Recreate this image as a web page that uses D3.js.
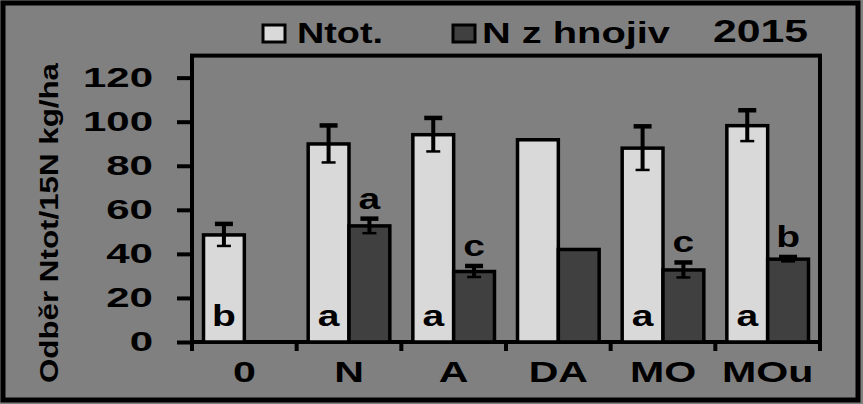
<!DOCTYPE html>
<html>
<head>
<meta charset="utf-8">
<script src="https://cdn.jsdelivr.net/npm/d3@7"></script>
<style>
  body { margin: 0; background: #808080; }
  svg { display: block; }
  text { font-family: "Liberation Sans", Arial, sans-serif; font-weight: bold; fill: #000; }
</style>
</head>
<body>
<svg id="chart" width="863" height="404"></svg>
<script>

// chart data
const categories = ["0", "N", "A", "DA", "MO", "MOu"];
const series_names = ["Ntot.", "N z hnojiv"];
const ntot = [48.6, 89.9, 94.1, 91.8, 88.0, 98.2];
const ntot_err = [5.0, 8.4, 7.6, null, 9.9, 7.0];
const nfert = [0, 52.7, 32.0, 42.0, 32.7, 37.6];
const nfert_err = [null, 3.3, 2.5, null, 3.4, 1.0];
const ntot_letters = ["b", "a", "a", "", "a", "a"];
const nfert_letters = ["", "a", "c", "", "c", "b"];
const y_ticks = [0, 20, 40, 60, 80, 100, 120];
const y_title = "Odběr Ntot/15N kg/ha";
const year_label = "2015";

const width = 863,
      height = 404,
      colours = {"ntot": "#d9d9d9", "nfert": "#404040"},
      plot = {left: 192, right: 820, top: 56, bottom: 342};

const svg = d3.select("#chart");

//stretch text sideways, the reference text is wide
function stretch(sel, k) {
    sel.each(function() {
        const len = this.getComputedTextLength();
        d3.select(this).attr("textLength", len * k).attr("lengthAdjust", "spacingAndGlyphs");
    });
}

//outer frame
svg.append("rect")
    .attr("x", 3).attr("y", 3)
    .attr("width", width - 8).attr("height", height - 7)
    .attr("fill", "#808080")
    .attr("stroke", "#000")
    .attr("stroke-width", 5);

//scales
const y = d3.scaleLinear().domain([0, 130]).range([plot.bottom, plot.bottom - 130 * 2.203]);

const x0 = d3.scaleBand()
    .domain(categories)
    .range([plot.left, plot.right])
    .paddingInner(0.22)
    .paddingOuter(0.11);

const x1 = d3.scaleBand()
    .domain(["ntot", "nfert"])
    .range([0, x0.bandwidth()]);

const rows = categories.map(function(c, i) {
    return {
        cat: c,
        bars: [
            {key: "ntot", value: ntot[i], err: ntot_err[i], letter: ntot_letters[i]},
            {key: "nfert", value: nfert[i], err: nfert_err[i], letter: nfert_letters[i]}
        ]
    };
});

//plot frame
svg.append("rect")
    .attr("x", plot.left).attr("y", y(130))
    .attr("width", plot.right - plot.left)
    .attr("height", plot.bottom - y(130))
    .attr("fill", "none")
    .attr("stroke", "#000")
    .attr("stroke-width", 4);

//y axis
const y_axis = svg.append("g")
    .attr("transform", "translate(" + plot.left + ",0)")
    .call(d3.axisLeft(y).tickValues(y_ticks).tickSize(15).tickPadding(24));

y_axis.select(".domain").remove();
y_axis.selectAll(".tick line").attr("stroke", "#000").attr("stroke-width", 4);
y_axis.selectAll(".tick text")
    .attr("font-size", 28)
    .attr("font-family", "Liberation Sans, Arial, sans-serif")
    .attr("font-weight", "bold")
    .attr("fill", "#000")
    .call(stretch, 1.5);

//bars
const group = svg.selectAll(".cat_group")
    .data(rows)
    .join("g")
    .attr("class", "cat_group")
    .attr("transform", d => "translate(" + x0(d.cat) + ",0)");

const bar = group.selectAll(".bar_group")
    .data(d => d.bars.filter(b => b.value > 0))
    .join("g")
    .attr("class", "bar_group");

bar.append("rect")
    .attr("x", d => x1(d.key))
    .attr("y", d => y(d.value))
    .attr("width", x1.bandwidth())
    .attr("height", d => y(0) - y(d.value))
    .attr("fill", d => colours[d.key])
    .attr("stroke", "#000")
    .attr("stroke-width", 3.5);

//error bars
const err = bar.filter(d => d.err !== null)
    .append("g")
    .attr("transform", d => "translate(" + (x1(d.key) + x1.bandwidth() / 2) + ",0)");

err.append("line")
    .attr("y1", d => y(d.value + d.err))
    .attr("y2", d => y(d.value - d.err))
    .attr("stroke", "#000").attr("stroke-width", 4);

err.append("line")
    .attr("x1", -9).attr("x2", 9)
    .attr("y1", d => y(d.value + d.err))
    .attr("y2", d => y(d.value + d.err))
    .attr("stroke", "#000").attr("stroke-width", 4.5);

err.append("line")
    .attr("x1", -7).attr("x2", 7)
    .attr("y1", d => y(d.value - d.err))
    .attr("y2", d => y(d.value - d.err))
    .attr("stroke", "#000").attr("stroke-width", 2.5);

//significance letters
bar.filter(d => d.letter !== "")
    .append("text")
    .attr("x", d => x1(d.key) + x1.bandwidth() / 2)
    .attr("y", function(d) {
        if (d.key === "ntot") return 326;
        return y(d.value + (d.err || 0)) - 10;
    })
    .attr("text-anchor", "middle")
    .attr("font-size", 30)
    .text(d => d.letter)
    .call(stretch, 1.3);

//x axis ticks at the category edges
const edges = d3.range(categories.length + 1).map(i => plot.left + i * x0.step());
svg.selectAll(".x_tick")
    .data(edges)
    .join("line")
    .attr("class", "x_tick")
    .attr("x1", d => d).attr("x2", d => d)
    .attr("y1", plot.bottom).attr("y2", plot.bottom + 9)
    .attr("stroke", "#000").attr("stroke-width", 4);

svg.selectAll(".x_label")
    .data(categories)
    .join("text")
    .attr("class", "x_label")
    .attr("x", d => x0(d) + x0.bandwidth() / 2)
    .attr("y", 382)
    .attr("text-anchor", "middle")
    .attr("font-size", 30)
    .text(d => d)
    .call(stretch, 1.37);

//y title
svg.append("text")
    .attr("transform", "translate(58,223) rotate(-90)")
    .attr("text-anchor", "middle")
    .attr("font-size", 25)
    .attr("textLength", 320)
    .attr("lengthAdjust", "spacingAndGlyphs")
    .text(y_title);

//legend
const legend_x = [263, 453];
const legend_text_len = [86, 188];
const legend = svg.selectAll(".legend")
    .data(series_names)
    .join("g")
    .attr("class", "legend")
    .attr("transform", (d, i) => "translate(" + legend_x[i] + ",25)");

legend.append("rect")
    .attr("width", 22).attr("height", 17)
    .attr("fill", (d, i) => i === 0 ? colours.ntot : colours.nfert)
    .attr("stroke", "#000").attr("stroke-width", 3);

legend.append("text")
    .attr("x", (d, i) => i === 0 ? 34 : 29)
    .attr("y", 18)
    .attr("font-size", 29)
    .attr("textLength", (d, i) => legend_text_len[i])
    .attr("lengthAdjust", "spacingAndGlyphs")
    .text(d => d);

svg.append("text")
    .attr("x", 713).attr("y", 42)
    .attr("font-size", 32)
    .attr("textLength", 95)
    .attr("lengthAdjust", "spacingAndGlyphs")
    .text(year_label);

</script>
</body>
</html>
